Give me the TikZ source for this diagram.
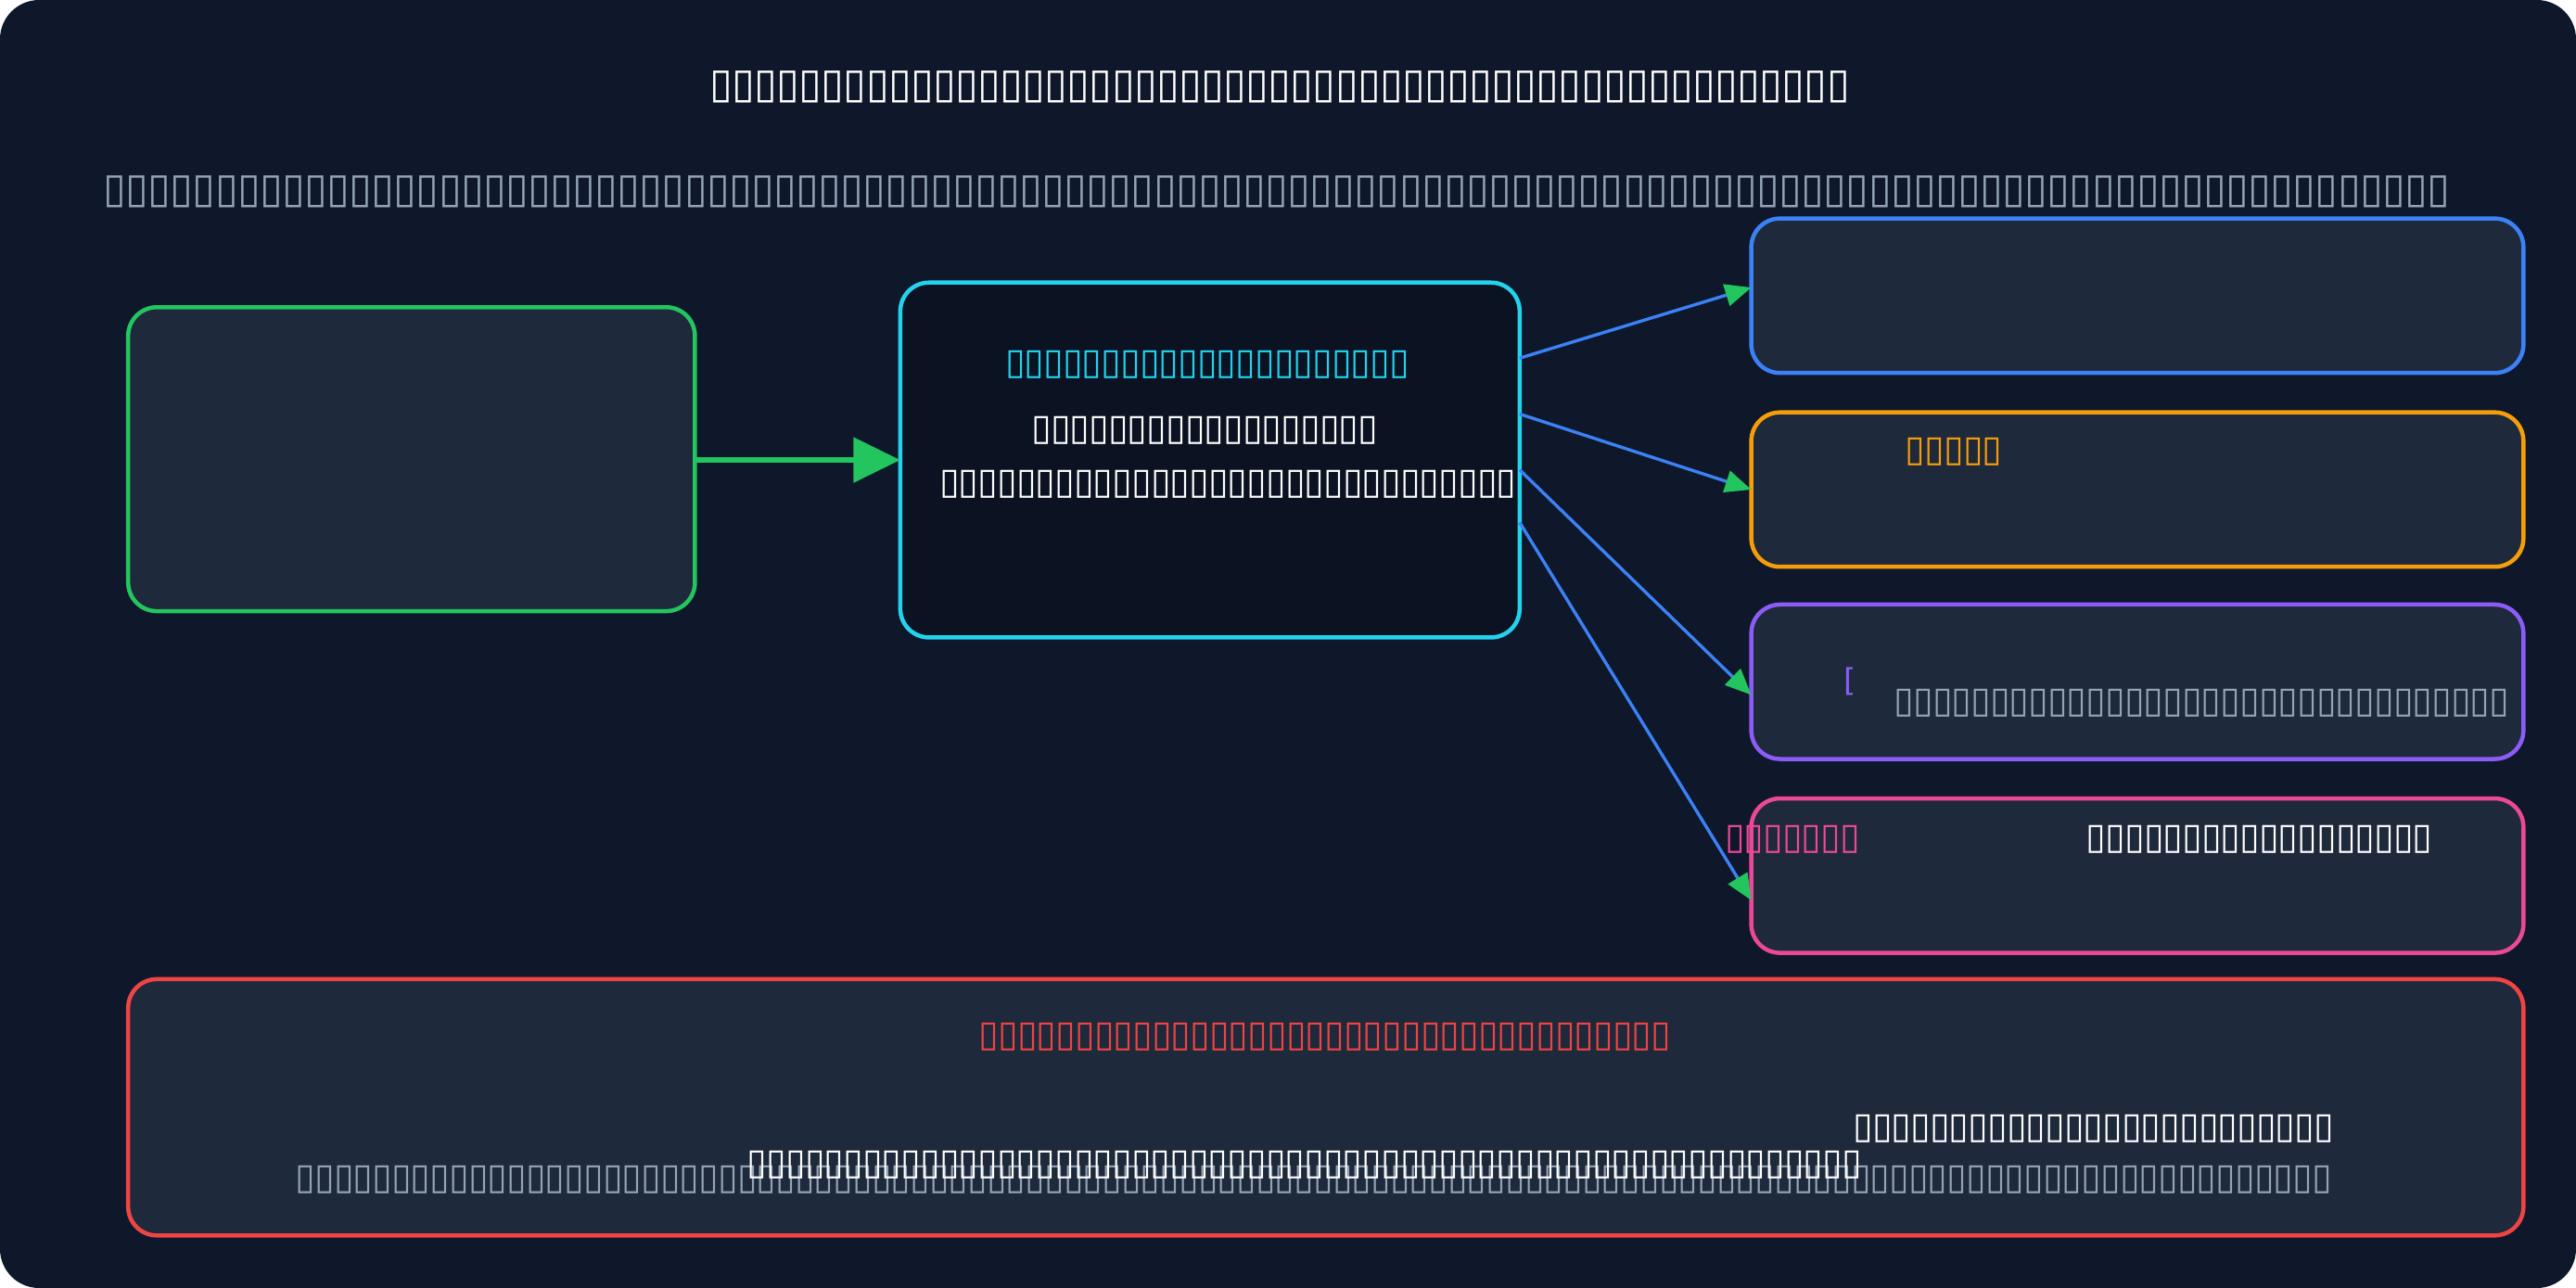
\documentclass[tikz,border=0pt]{standalone}
\usepackage{fontspec}
\setmainfont{DejaVu Sans}
\usetikzlibrary{arrows.meta}
\definecolor{bg}{HTML}{0F172A}
\definecolor{card}{HTML}{1E293B}
\definecolor{dark}{HTML}{0B1222}
\definecolor{mut}{HTML}{94A3B8}
\definecolor{grn}{HTML}{22C55E}
\definecolor{cya}{HTML}{22D3EE}
\definecolor{blu}{HTML}{3B82F6}
\definecolor{ora}{HTML}{F59E0B}
\definecolor{pur}{HTML}{8B5CF6}
\definecolor{pnk}{HTML}{EC4899}
\definecolor{red}{HTML}{EF4444}
\newcount\tfc
\newcommand\Tofu[2]{\tfc=#2\relax\loop\makebox[#1]{▯}\advance\tfc -1 \ifnum\tfc>0 \repeat}
\newcommand\TA[1]{{\fontsize{32pt}{32pt}\selectfont\Tofu{17.15pt}{#1}}}
\newcommand\TB[1]{{\fontsize{28pt}{28pt}\selectfont\Tofu{14.74pt}{#1}}}
\begin{document}
\begin{tikzpicture}[x=0.04429cm,y=-0.04429cm,
  card/.style={line width=3.2pt,fill=card,rounded corners=22pt},
  lbl/.style={inner sep=0,anchor=west},
  conn/.style={blu,line width=2.4pt,-{Triangle[length=20pt,width=17pt,fill=grn,color=grn]}}]
\fill[bg,rounded corners=30pt] (0,0) rectangle (1568,784);
\useasboundingbox (0,0) rectangle (1568,784);
\node[lbl,white] (t) at (432,53) {\TA{51}};
\node[lbl,mut] (s) at (63,117) {\TA{105}};
\draw[card,draw=grn] (78,187) rectangle (423,372);
\draw[card,draw=cya,fill=dark] (548,172) rectangle (925,388);
\coordinate (Cl) at (548,280);
\coordinate (Lr) at (423,280);
\draw[grn,line width=4.5pt,-{Triangle[length=36pt,width=34pt]}] (Lr) -- (Cl);
\node[lbl,cya] (c1) at (612,222) {\TB{21}};
\node[lbl,white] (c2) at (628,262) {\TB{18}};
\node[lbl,white] (c3) at (572,295) {\TB{30}};
\draw[card,draw=blu] (1066,133) rectangle (1536,227);
\draw[card,draw=ora] (1066,251) rectangle (1536,345);
\draw[card,draw=pur] (1066,368) rectangle (1536,462);
\draw[card,draw=pnk] (1066,486) rectangle (1536,580);
\node[lbl,ora] (o1) at (1160,275) {\TB{5}};
\node[lbl,pur] (p1) at (1122,415) {\fontsize{24pt}{24pt}\selectfont[};
\node[lbl,mut] (p2) at (1153,428) {\TB{32}};
\node[lbl,pnk] (k1) at (1050,511) {\TB{7}};
\node[lbl,white] (k2) at (1270,511) {\TB{18}};
\coordinate (a1) at (925,218); \coordinate (b1) at (1066,175);
\coordinate (a2) at (925,252); \coordinate (b2) at (1066,298);
\coordinate (a3) at (925,286); \coordinate (b3) at (1066,423);
\coordinate (a4) at (925,318); \coordinate (b4) at (1066,548);
\draw[conn] (a1) -- (b1);
\draw[conn] (a2) -- (b2);
\draw[conn] (a3) -- (b3);
\draw[conn] (a4) -- (b4);
\draw[card,draw=red] (78,596) rectangle (1536,752);
\node[lbl,red] (r1) at (596,631) {\TB{36}};
\node[lbl,white] (w1) at (1128,687) {\TB{25}};
\node[lbl,mut] (g1) at (180,718) {\TB{106}};
\node[lbl,white] (w2) at (455,709) {\TB{58}};
\end{tikzpicture}
\end{document}
